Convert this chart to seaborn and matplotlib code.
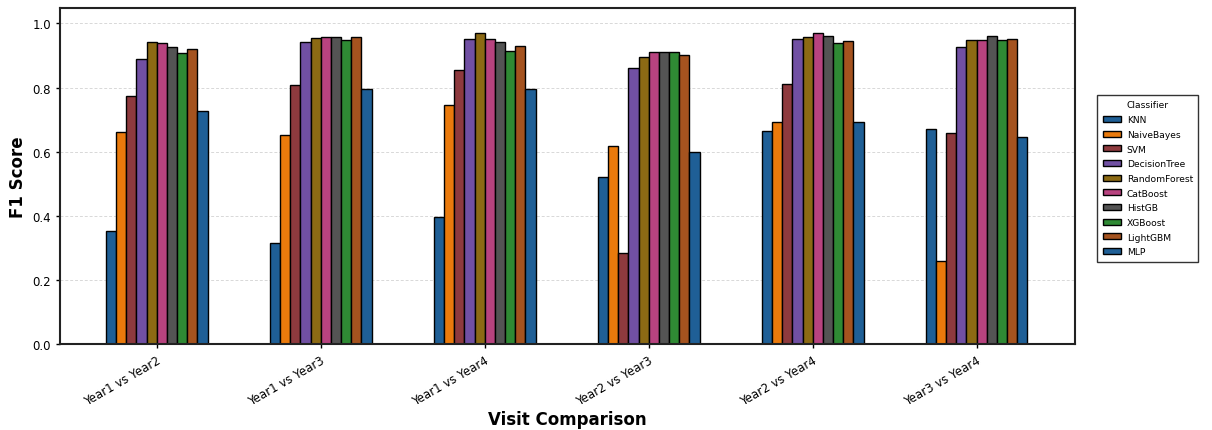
import numpy as np
import pandas as pd
import matplotlib
matplotlib.use("Agg")
import matplotlib.pyplot as plt
import seaborn as sns

comparisons = ["Year1 vs Year2", "Year1 vs Year3", "Year1 vs Year4",
               "Year2 vs Year3", "Year2 vs Year4", "Year3 vs Year4"]
classifiers = ["KNN", "NaiveBayes", "SVM", "DecisionTree", "RandomForest",
               "CatBoost", "HistGB", "XGBoost", "LightGBM", "MLP"]

knn = [0.353, 0.315, 0.397, 0.521, 0.666, 0.671]
naive_bayes = [0.662, 0.651, 0.747, 0.617, 0.694, 0.259]
svm = [0.775, 0.809, 0.855, 0.283, 0.810, 0.659]
decision_tree = [0.888, 0.941, 0.952, 0.862, 0.950, 0.926]
random_forest = [0.941, 0.955, 0.971, 0.896, 0.958, 0.948]
catboost = [0.938, 0.958, 0.952, 0.911, 0.970, 0.948]
histgb = [0.925, 0.958, 0.942, 0.911, 0.960, 0.960]
xgboost = [0.907, 0.947, 0.915, 0.911, 0.940, 0.948]
lightgbm = [0.919, 0.957, 0.931, 0.902, 0.945, 0.951]
mlp = [0.727, 0.797, 0.794, 0.598, 0.693, 0.645]

scores = [knn, naive_bayes, svm, decision_tree, random_forest,
          catboost, histgb, xgboost, lightgbm, mlp]

colors = ["#1f5f96", "#ea7a0c", "#8e3a3e", "#7150a3", "#8c6a14",
          "#b8437f", "#545454", "#2f8a34", "#a5531f", "#1f5f96"]

rows = []
for clf, vals in zip(classifiers, scores):
    for comp, v in zip(comparisons, vals):
        rows.append({"Visit Comparison": comp, "Classifier": clf, "F1 Score": v})
df = pd.DataFrame(rows)

sns.set_style("white")
plt.rcParams["font.family"] = ["DejaVu Sans"]
plt.rcParams["text.color"] = "black"
plt.rcParams["axes.labelcolor"] = "black"
plt.rcParams["xtick.color"] = "black"
plt.rcParams["ytick.color"] = "black"

fig = plt.figure(figsize=(12.12, 4.31), dpi=100)
ax = fig.add_axes([0.0495, 0.1995, 0.8375, 0.7795])

sns.barplot(data=df, x="Visit Comparison", y="F1 Score", hue="Classifier",
            order=comparisons, hue_order=classifiers, palette=colors,
            saturation=1, width=0.62, edgecolor="black", linewidth=1,
            errorbar=None, ax=ax)

ax.set_xlim(-0.59, 5.6)
ax.set_ylim(0, 1.048)
ax.set_yticks([0.0, 0.2, 0.4, 0.6, 0.8, 1.0])
ax.yaxis.grid(True, linestyle=(0, (3, 2)), color="#d8d8d8", linewidth=0.7)
ax.set_axisbelow(True)

for s in ax.spines.values():
    s.set_linewidth(1.5)
    s.set_color("#222222")

ax.tick_params(axis="both", which="major", length=3, width=1, labelsize=8.5,
               bottom=True, left=True)
plt.setp(ax.get_xticklabels(), rotation=30, ha="right", rotation_mode="anchor")

ax.set_xlabel("Visit Comparison", fontsize=12, fontweight="bold", labelpad=2)
ax.set_ylabel("F1 Score", fontsize=12, fontweight="bold")

leg = ax.legend(title="Classifier", loc="center left", bbox_to_anchor=(1.022, 0.493),
                fontsize=6.6, title_fontsize=6.6, frameon=True, fancybox=False,
                handlelength=2.0, handleheight=0.6, handletextpad=0.6,
                labelspacing=0.62, borderpad=0.6, borderaxespad=0)
leg.get_frame().set_edgecolor("black")
leg.get_frame().set_linewidth(1)

fig.savefig("out.png", dpi=100)
